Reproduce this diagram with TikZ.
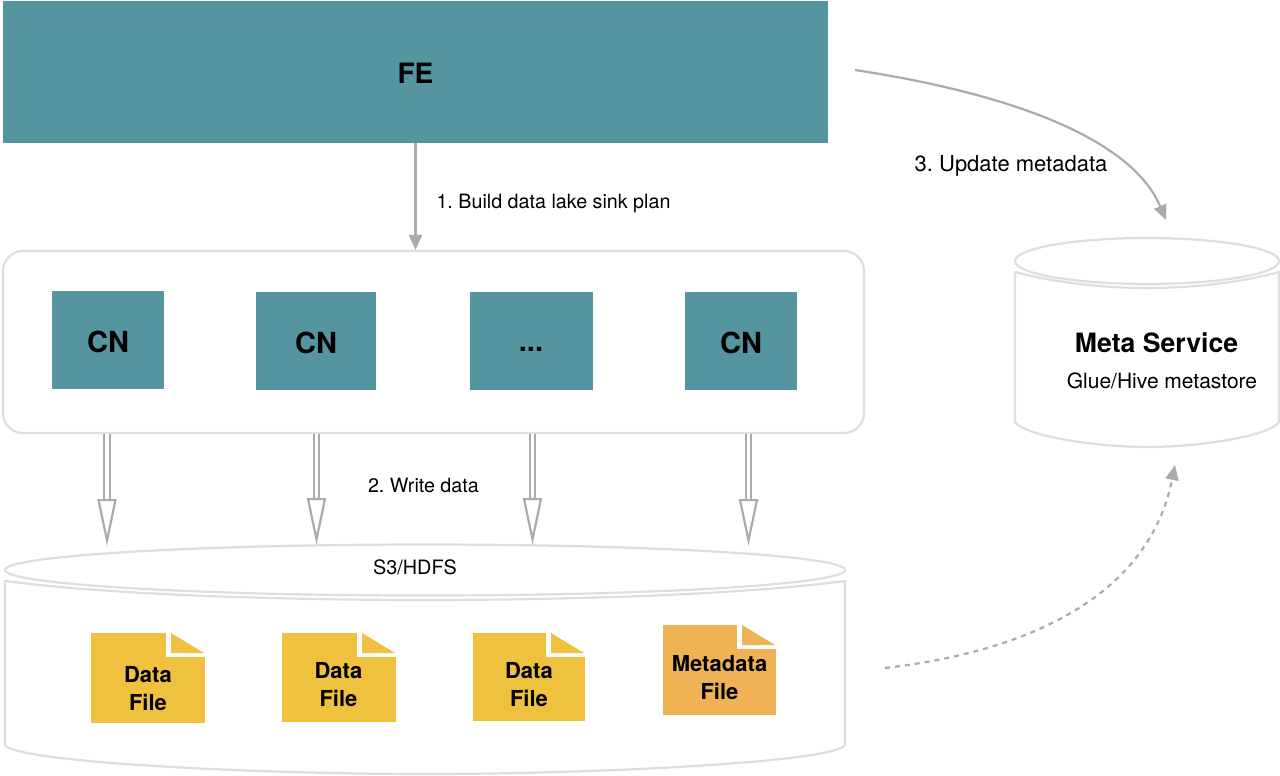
\documentclass[tikz,border=0pt]{standalone}
\usepackage{fontspec}
\setmainfont{TeX Gyre Heros}
\usetikzlibrary{arrows.meta}
\usetikzlibrary{shapes.geometric}
\definecolor{teal1}{HTML}{5495A0}
\definecolor{yellow1}{HTML}{F0C03F}
\definecolor{orange1}{HTML}{EFB355}
\definecolor{edge1}{HTML}{DEDEDE}
\definecolor{arrow1}{HTML}{ABABAB}
\frenchspacing
\tikzset{l/.style={font=\fontsize{19.7}{24}\selectfont}}
\tikzset{b/.style={font=\fontsize{22}{28}\selectfont\bfseries,align=center}}
\tikzset{t/.style={fill=teal1,inner sep=0pt,text height=24pt,text depth=0pt,font=\fontsize{29}{28}\selectfont\bfseries}}
\tikzset{disc/.style={ellipse,draw=edge1,line width=2.2pt,inner sep=0pt}}
\tikzset{body/.style={draw=edge1,line width=2.2pt}}
\tikzset{thin1/.style={draw=arrow1,line width=2.2pt,-{Triangle[length=15pt,width=13pt,fill=arrow1]}}}
\tikzset{write/.style={draw=arrow1,line width=2pt,double=white,double distance=3.5pt,-{Triangle[open,length=47pt,width=19pt,line width=2.2pt,fill=white]}}}
\tikzset{doc/.style={fill=#1,inner sep=0pt,minimum width=114pt,minimum height=90pt,
  path picture={
    \fill[white] ([xshift=-39pt]path picture bounding box.north east) rectangle ([yshift=-24pt]path picture bounding box.north east);
    \fill[#1] ([xshift=-34pt]path picture bounding box.north east) -- ([xshift=-1pt,yshift=-20pt]path picture bounding box.north east) -- ([xshift=-34pt,yshift=-20pt]path picture bounding box.north east) -- cycle;
  }}}
\begin{document}
\begin{tikzpicture}[x=1pt,y=-1pt,line join=round]
  \useasboundingbox (0,0) rectangle (1280,776);
  % top
  \node[t,minimum width=825pt,minimum height=142pt] (fe) at (415.5,72) {};
  \node[t,fill=none,font=\fontsize{28}{28}\selectfont\bfseries] (felabel) at (415.5,71.5) {FE};
  % compute nodes
  \node[draw=edge1,line width=2.2pt,rounded corners=20pt,minimum width=861pt,minimum height=182pt] (cns) at (433.5,342) {};
  \node[t,minimum width=112pt,minimum height=98pt] (cn1) at (108,340) {CN};
  \node[t,minimum width=120pt,minimum height=98pt] (cn2) at (316,341) {CN};
  \node[t,text height=20pt,minimum width=123pt,minimum height=98pt] (cn3) at (531,341) {...};
  \node[t,minimum width=112pt,minimum height=98pt] (cn4) at (741,341) {CN};
  \draw[thin1] (fe.south) -- (fe.south |- cns.north);
  \node[l,anchor=west] (plan) at (433,203) {1. Build data lake sink plan};
  % storage
  \draw[body] (5,581) .. controls (120,596) and (300,600) .. (425,600) .. controls (550,600) and (730,596) .. (845,581) -- (845,745) .. controls (835,762) and (600,774) .. (425,774) .. controls (250,774) and (15,762) .. (5,745) -- cycle;
  \node[disc,minimum width=840pt,minimum height=51pt,fill=white] (s3) at (425,570) {};
  \node[font=\fontsize{19.8}{20}\selectfont] (s3label) at (415,567) {S3/HDFS};
  \coordinate (w1) at (107,434);
  \coordinate (w2) at (316.5,434);
  \coordinate (w3) at (532.5,434);
  \coordinate (w4) at (748.5,434);
  \coordinate (s1) at (107,546);
  \coordinate (s2) at (316.5,545);
  \coordinate (s3a) at (532.5,545);
  \coordinate (s4) at (748.5,546);
  \draw[write] (w1) -- (s1);
  \draw[write] (w2) -- (s2);
  \draw[write] (w3) -- (s3a);
  \draw[write] (w4) -- (s4);
  \node[l,anchor=west] (wd) at (364.5,485) {2. Write data};
  % files
  \node[doc=yellow1] (f1) at (148,678) {};
  \node[doc=yellow1,minimum height=89pt] (f2) at (339,677.5) {};
  \node[doc=yellow1,minimum width=112pt,minimum height=88pt] (f3) at (529,677) {};
  \node[doc=orange1,minimum width=113pt] (f4) at (719.5,670) {};
  \node[b] (f1t) at (148,689) {Data\\File};
  \node[b] (f2t) at (338.5,685) {Data\\File};
  \node[b] (f3t) at (529,685) {Data\\File};
  \node[b] (f4t) at (719.5,678) {Metadata\\File};
  % meta service
  \draw[body] (1015,272) .. controls (1060,284) and (1110,288) .. (1147,288) .. controls (1185,288) and (1235,284) .. (1279,272) -- (1279,422) .. controls (1270,436) and (1200,447) .. (1147,447) .. controls (1095,447) and (1025,436) .. (1015,422) -- cycle;
  \node[disc,minimum width=264pt,minimum height=46pt,fill=white] (ms) at (1147,261) {};
  \node[font=\fontsize{26.6}{28}\selectfont\bfseries] (mslabel) at (1156.5,342.5) {Meta Service};
  \node[font=\fontsize{21}{24}\selectfont] (glue) at (1162,380.5) {Glue/Hive metastore};
  % updates
  \coordinate (u1) at (855,70);
  \coordinate (u2) at (1166,220);
  \coordinate (d1) at (885,668);
  \coordinate (d2) at (1175,465);
  \draw[thin1] (u1) .. controls (1000,92) and (1130,135) .. (u2);
  \draw[thin1,dash pattern=on 5pt off 5pt] (d1) .. controls (1040,650) and (1150,590) .. (d2);
  \node[l,font=\fontsize{22}{24}\selectfont,anchor=west] (upd) at (911,166) {3. Update metadata};
\end{tikzpicture}
\end{document}
